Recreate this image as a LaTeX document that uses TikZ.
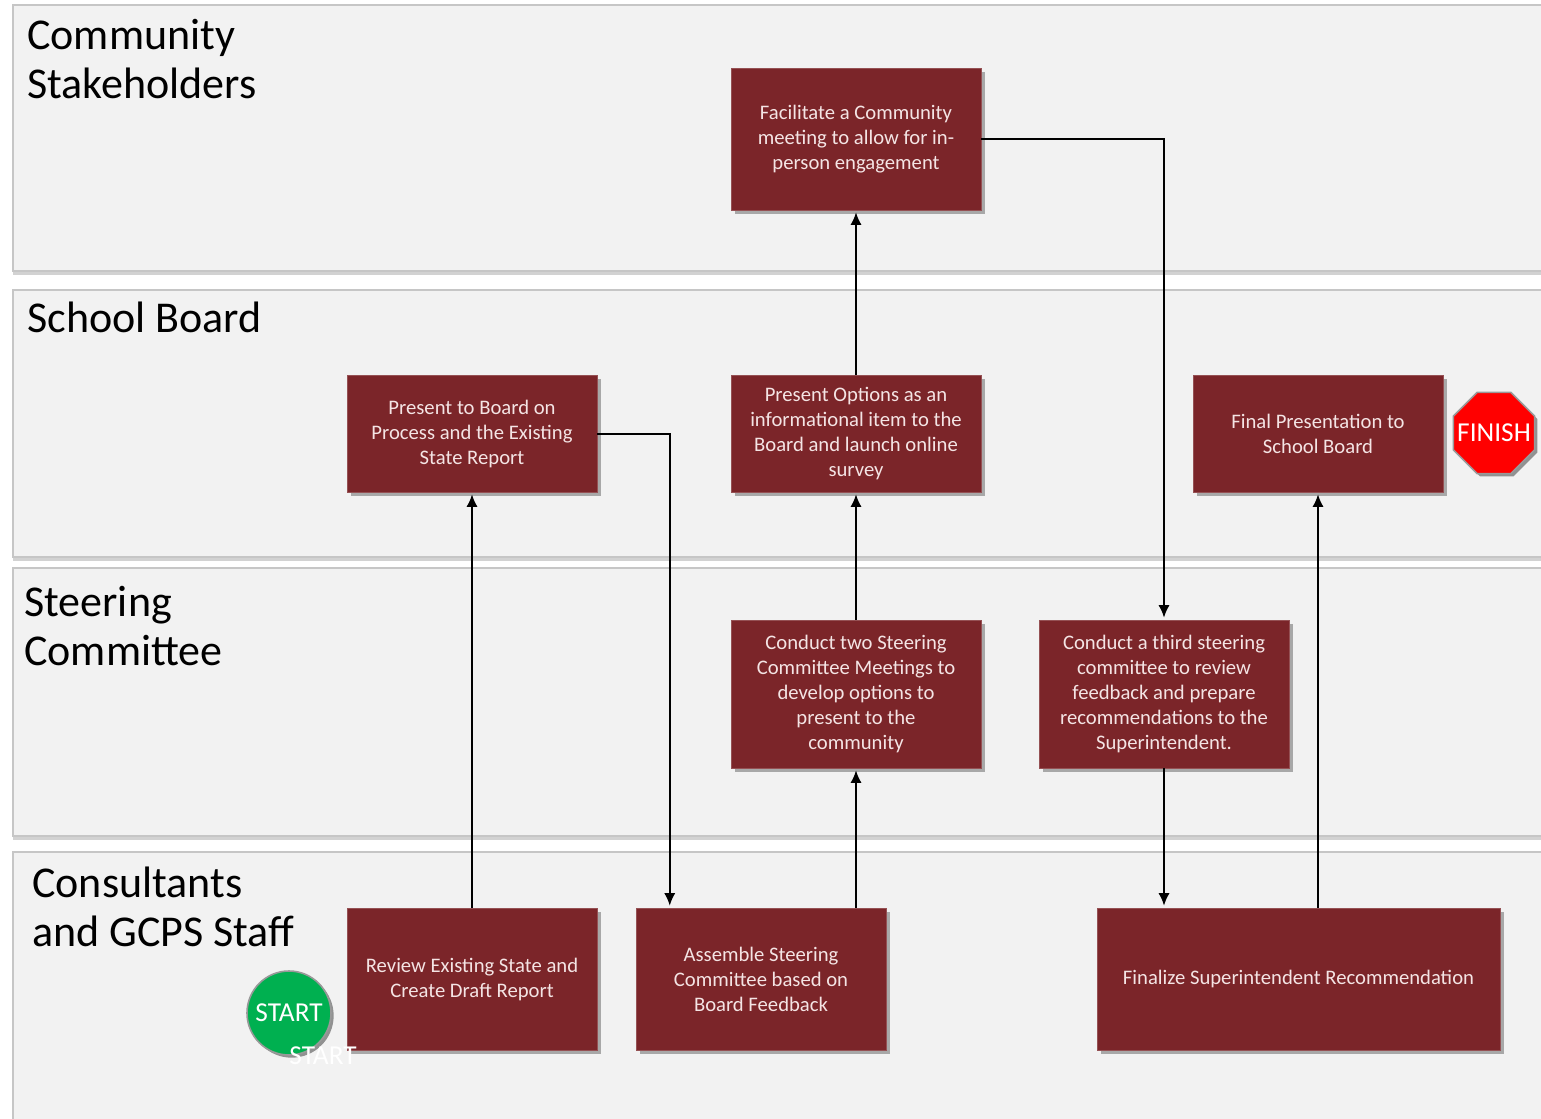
\documentclass[tikz,border=0pt]{standalone}
\usepackage{fontspec}
\setmainfont{Carlito}
\usetikzlibrary{shapes.geometric,shadows,arrows.meta}
\definecolor{lanefill}{HTML}{F2F2F2}
\definecolor{laneline}{HTML}{C6C6C6}
\definecolor{boxred}{HTML}{7B2529}
\definecolor{boxtext}{HTML}{F4E4E4}
\definecolor{startgreen}{HTML}{00B050}
\tikzset{
  lane/.style={fill=lanefill, draw=laneline, line width=1.5pt,
    drop shadow={shadow xshift=0pt, shadow yshift=-3pt, opacity=0.35, fill=gray}},
  lanetitle/.style={anchor=north west, align=left, inner sep=0pt,
    font=\fontsize{33}{36.5}\selectfont, text=black},
  box/.style={rectangle, fill=boxred, draw=boxred!80!white, line width=0.4pt,
    text=boxtext, align=center, minimum width=187.5pt, inner sep=3pt,
    font=\fontsize{15.5}{18.75}\selectfont,
    drop shadow={shadow xshift=3pt, shadow yshift=-3pt, opacity=0.3, fill=black}},
  arr/.style={-{Latex[length=9.5pt,width=8.5pt]}, line width=1.5pt, black, shorten >=1.5pt},
  badge/.style={inner sep=0pt, draw=gray!80, line width=1.2pt,
    drop shadow={shadow xshift=2pt, shadow yshift=-2pt, opacity=0.4, fill=black}},
  badgetext/.style={text=white, font=\fontsize{20.5}{22}\selectfont, inner sep=0pt}
}
\begin{document}
\begin{tikzpicture}[x=0.75pt, y=-0.75pt]
\clip (0,0) rectangle (1541,1118);
\fill[white] (0,0) rectangle (1541,1118);
% lanes
\path[lane] (13,5) rectangle (1560,271);
\path[lane] (13,290) rectangle (1560,557);
\path[lane] (13,568) rectangle (1560,836);
\path[lane] (13,852) rectangle (1560,1140);
\node[lanetitle] (t1) at (27,19) {Community\\Stakeholders};
\node[lanetitle] (t2) at (27,302) {School Board};
\node[lanetitle] (t3) at (24,586) {Steering\\Committee};
\node[lanetitle] (t4) at (32,867) {Consultants\\and GCPS Staff};
% boxes
\node[box, minimum height=106.5pt] (fac) at (856,139) {Facilitate a Community\\meeting to allow for in-\\person engagement};
\node[box, minimum height=87.75pt] (pb) at (472,433.5) {Present to Board on\\Process and the Existing\\State Report};
\node[box, minimum height=87.75pt] (po) at (856,433.5) {Present Options as an\\informational item to the\\Board and launch online\\survey};
\node[box, minimum height=87.75pt] (fp) at (1318,433.5) {Final Presentation to\\School Board};
\node[box, minimum height=111pt] (ct) at (856,694) {Conduct two Steering\\Committee Meetings to\\develop options to\\present to the\\community};
\node[box, minimum height=111pt] (c3) at (1164,694) {Conduct a third steering\\committee to review\\feedback and prepare\\recommendations to the\\Superintendent.};
\node[box, minimum height=106.5pt] (rv) at (472,979) {Review Existing State and\\Create Draft Report};
\node[box, minimum height=106.5pt] (as) at (761,979) {Assemble Steering\\Committee based on\\Board Feedback};
\node[box, minimum height=106.5pt, minimum width=302.25pt] (fz) at (1298.5,979) {Finalize Superintendent Recommendation};
% badges
\node[badge, circle, fill=startgreen, minimum size=63pt] (start) at (289,1013) {};
\node[badgetext] (startlbl) at (start.center) {START};
\node[badgetext] (start2) at (323,1056) {START};
\node[badge, regular polygon, regular polygon sides=8, fill=red, minimum size=66pt] (fin) at (1494,433) {};
\node[badgetext] (finlbl) at (fin.center) {FINISH};
% connectors
\draw[arr] (rv.north) -- (pb.south);
\draw[arr] (pb.east) -| ([xshift=25.5pt]as.north west);
\draw[arr] (ct.south |- as.north) -- (ct.south);
\draw[arr] (ct.north) -- (po.south);
\draw[arr] (po.north) -- (fac.south);
\draw[arr] (fac.east) -| (c3.north);
\draw[arr] (c3.south) -- (c3.south |- fz.north);
\draw[arr] (fp.south |- fz.north) -- (fp.south);
\end{tikzpicture}
\end{document}
